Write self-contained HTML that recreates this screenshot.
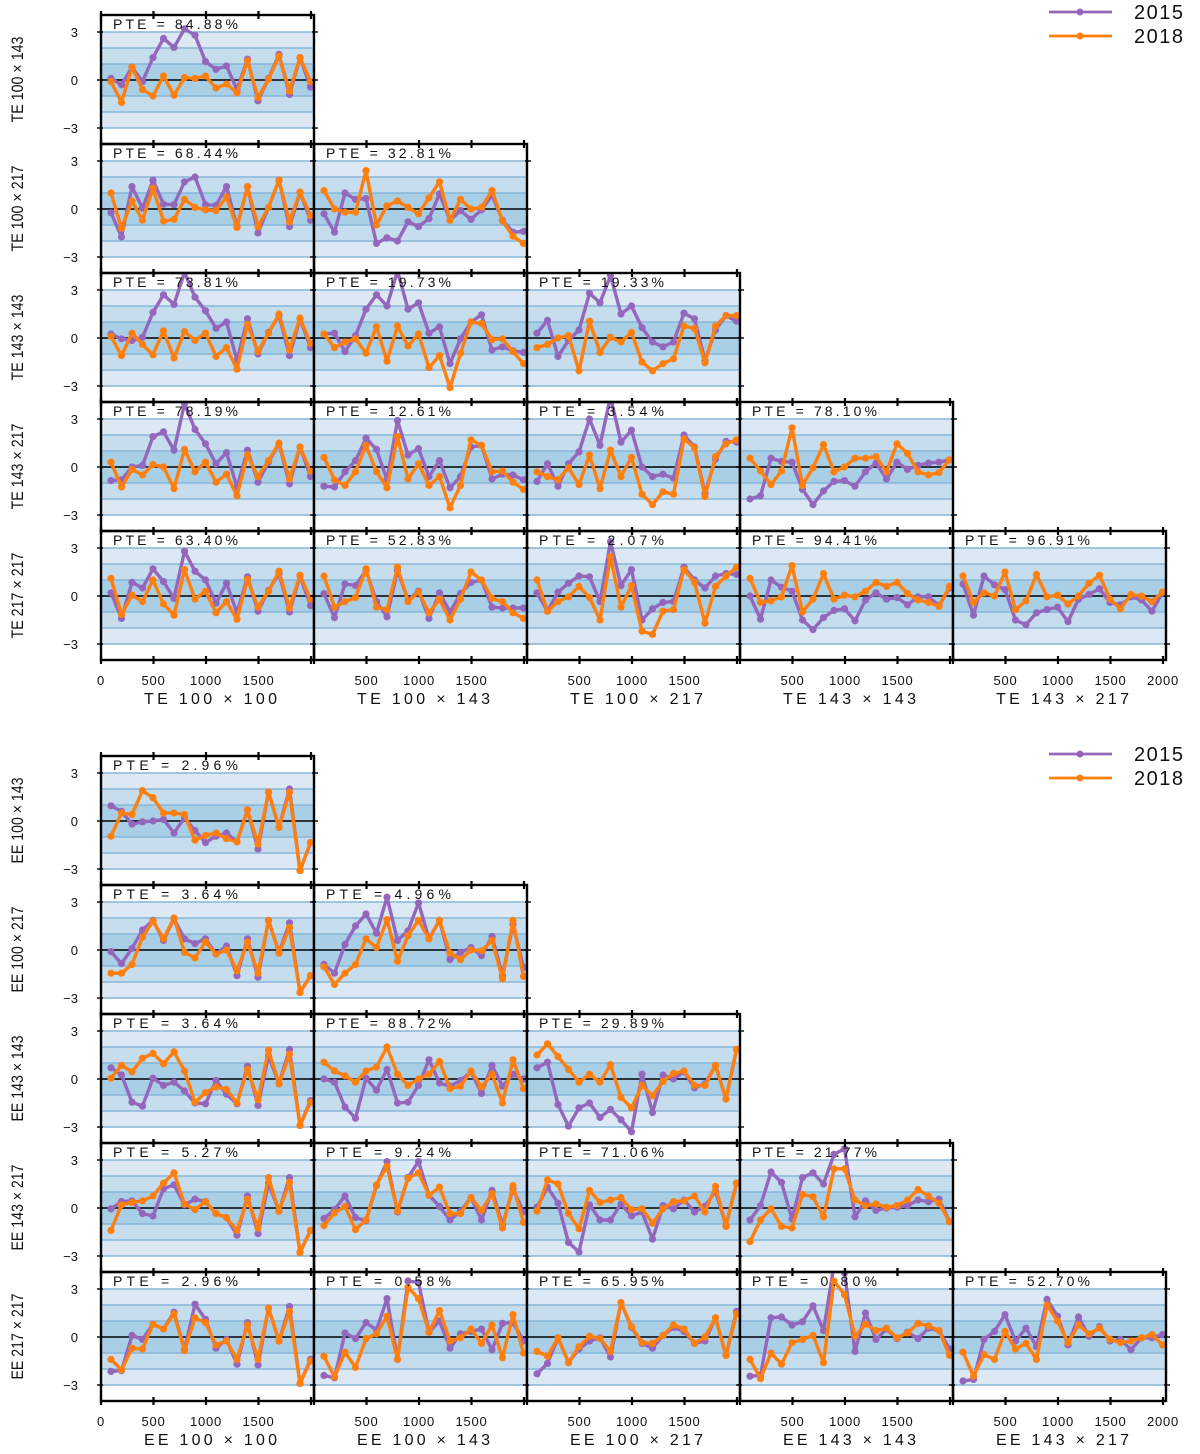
<!DOCTYPE html>
<html><head><meta charset="utf-8"><style>
html,body{margin:0;padding:0;background:#fff}
svg{display:block}
text{font-family:"Liberation Sans","DejaVu Sans",sans-serif;fill:#111}
</style></head><body>
<svg id="chart" width="1200" height="1454" viewBox="0 0 1200 1454" xmlns="http://www.w3.org/2000/svg"></svg>
<script>
const ellStart = 95, ellStep = 100, nPoints = 20;
const colLabels = ["100 × 100","100 × 143","100 × 217","143 × 143","143 × 217"];
const rowLabels = ["100 × 143","100 × 217","143 × 143","143 × 217","217 × 217"];
const xTicks = [0,500,1000,1500,2000];
const yTicks = [3,0,-3];
const yTickLabels = ["3","0","−3"];
const seriesNames = ["2015","2018"];

const tePte = [["84.88"],["68.44","32.81"],["73.81","19.73","19.33"],["78.19","12.61","3.54","78.10"],["63.40","52.83","2.07","94.41","96.91"]];
const eePte = [["2.96"],["3.64","4.96"],["3.64","88.72","29.89"],["5.27","9.24","71.06","21.77"],["2.96","0.58","65.95","0.80","52.70"]];

const te2015 = [
[[0.1,-0.3,0.8,-0.1,1.4,2.6,2.04,3.2,2.8,1.15,0.67,0.875,-0.6,1.3,-1.3,0.1,1.6,-0.9,1.4,-0.45]],
[[-0.23,-1.75,1.4,0.05,1.8,0.3,0.27,1.7,2.0,0.27,0.23,1.4,-1.1,1.4,-1.5,0.1,1.8,-1.1,1.05,-0.7],
 [-0.3,-1.45,1.0,0.6,0.65,-2.15,-1.8,-2.0,-0.8,-1.1,-0.6,0.95,-0.7,-0.1,-0.65,-0.05,0.85,-0.7,-1.45,-1.4]],
[[0.25,-0.05,-0.15,0.05,1.6,2.7,2.1,4.1,2.55,1.7,0.6,1.0,-1.4,1.2,-1.0,0.35,1.4,-1.1,1.2,-0.6],
 [0.25,0.3,-0.85,0.15,1.8,2.7,2.0,4.2,1.8,2.2,0.3,0.7,-1.6,-0.05,1.0,1.45,-0.75,-0.55,-0.8,-0.9],
 [0.3,1.1,-1.15,-0.15,0.5,2.8,2.2,3.9,1.5,2.0,0.65,-0.25,-0.55,-0.25,1.55,1.2,-1.4,0.5,1.4,1.05]],
[[-0.85,-0.8,0,0.1,1.9,2.2,1.05,3.95,2.35,1.45,0.2,0.9,-1.25,1.05,-0.95,0.3,1.45,-1.05,1.25,-0.6],
 [-1.2,-1.25,-0.3,0.4,1.8,1.1,-0.8,2.9,0.75,1.15,-0.6,0.4,-1.3,-0.6,1.25,1.35,-0.75,-0.45,-0.5,-0.8],
 [-0.9,0.2,-1.2,0.2,0.95,3.0,1.35,4.4,1.55,2.3,0,-0.6,-0.45,-0.7,2.0,1.25,-1.65,0.5,1.6,1.55],
 [-2.0,-1.8,0.55,0.35,0.3,-1.4,-2.35,-1.5,-0.9,-0.85,-1.2,-0.3,0.25,-0.75,0.3,-0.15,0.1,0.25,0.3,0.45]],
[[0.2,-1.4,0.85,0.5,1.7,0.9,-0.15,2.8,1.55,1.0,-0.45,0.8,-1.05,1.2,-0.95,0.35,1.4,-1.0,1.25,-0.6],
 [0.15,-1.35,0.75,0.65,1.6,-0.35,-1.3,1.6,-0.25,0.3,-1.4,0.2,-1.0,0.15,0.85,1.0,-0.7,-0.75,-0.75,-0.75],
 [0.2,-0.95,0.25,0.8,1.25,1.2,-0.35,3.4,0.65,1.65,-1.5,-0.8,-0.4,-0.35,1.8,1.0,0.5,1.25,1.4,1.35],
 [0,-1.45,1.0,0.55,0.3,-1.5,-2.1,-1.35,-0.9,-0.8,-1.55,-0.25,0.2,-0.2,-0.1,-0.55,-0.05,-0.05,-0.6,0.5],
 [0.75,-1.2,1.25,0.7,0.4,-1.5,-1.8,-1.05,-0.85,-0.7,-1.6,-0.2,0.1,0.45,-0.4,-0.55,-0.05,-0.25,-0.95,0.2]]
];
const te2018 = [
[[-0.1,-1.4,0.8,-0.6,-1.0,0.25,-0.95,0.15,0.1,0.25,-0.5,-0.25,-0.8,1.2,-1.1,0.05,1.5,-0.7,1.4,-0.1]],
[[1.0,-1.2,0.5,-0.7,1.3,-0.75,-0.65,0.6,0.1,-0.05,-0.1,0.75,-1.15,1.4,-1.1,0.1,1.8,-0.8,1.05,-0.4],
 [1.15,0,-0.2,-0.2,2.4,-1.0,0.2,0.5,0.1,-0.3,0.7,1.7,-0.7,0.6,0,0.1,1.15,-0.75,-1.7,-2.15]],
[[0.1,-1.1,0.3,-0.4,-1.05,0.45,-1.25,0.4,-0.15,0.3,-1.15,-0.6,-1.95,0.85,-0.85,0.3,1.5,-0.75,1.25,-0.35],
 [0.25,-0.6,-0.25,-0.05,-0.95,0.7,-1.45,0.75,-0.5,0.25,-1.85,-1.1,-3.1,-0.95,1.0,0.9,-0.1,-0.05,-0.85,-1.6],
 [-0.6,-0.4,0,0.15,-2.05,1.05,-0.9,0.05,-0.25,0.35,-1.5,-2.05,-1.6,-1.3,0.75,0.6,-1.55,0.75,1.4,1.4]],
[[0.3,-1.25,-0.15,-0.5,0.15,0,-1.35,1.1,-0.3,0.3,-0.95,-0.45,-1.8,0.75,-0.6,0.4,1.5,-0.75,1.25,-0.25],
 [0.6,-0.8,-1.15,-0.3,1.35,-0.3,-1.3,1.9,-0.75,0.2,-1.15,-0.6,-2.55,-1.15,1.7,1.35,-0.3,-0.25,-0.95,-1.4],
 [-0.3,-0.6,-0.8,-0.05,-1.1,0.75,-1.35,1.05,-0.6,0.6,-1.7,-2.35,-1.55,-1.7,1.75,1.2,-1.85,0.65,1.45,1.7],
 [0.55,-0.25,-1.1,-0.25,2.45,-1.15,-0.05,1.4,-0.3,0,0.55,0.55,0.65,-0.3,1.45,0.85,-0.3,-0.5,-0.35,0.45]],
[[1.1,-1.15,0.05,-0.35,1.0,-0.5,-1.2,1.65,-0.2,0.3,-1.05,-0.35,-1.45,1.05,-0.7,0.3,1.55,-0.75,1.3,-0.2],
 [1.25,-0.7,-0.35,-0.1,1.7,-0.7,-0.85,1.8,-0.35,0.25,-1.05,-0.2,-1.5,-0.2,1.5,1.0,-0.15,-0.35,-1.05,-1.4],
 [1.0,-0.95,-0.35,-0.05,0.6,-0.1,-1.5,2.45,-0.7,0.65,-2.2,-2.4,-0.95,-0.85,1.65,0.85,-1.7,0.6,1.25,1.8],
 [1.1,-0.4,-0.3,-0.05,1.9,-1.0,-0.2,1.4,-0.2,0.05,-0.05,0.3,0.85,0.6,0.85,0.15,-0.25,-0.4,-0.65,0.6],
 [1.25,-0.4,0.2,0,1.5,-0.85,-0.3,1.35,-0.05,0.05,-0.5,0,0.8,1.3,-0.2,-0.8,0.1,0,-0.35,0.25]]
];
const ee2015 = [
[[0.95,0.6,-0.2,-0.05,0,0.1,-0.75,0.2,-0.6,-1.35,-0.95,-0.75,-1.3,0.7,-1.75,1.8,-0.4,2.0,-3.1,-1.35]],
[[-0.1,-0.85,0.1,1.25,1.85,0.6,1.95,0.7,0.4,0.7,-0.25,0.25,-1.6,0.7,-1.7,1.85,-0.15,1.7,-2.65,-1.6],
 [-0.9,-1.45,0.35,1.5,2.25,1.05,3.3,0.6,1.2,2.95,0.7,1.85,-0.6,-0.15,0.15,-0.35,0.85,-1.6,1.6,-1.1]],
[[0.7,0.25,-1.45,-1.7,0.05,-0.4,-0.2,-0.75,-1.5,-1.55,-0.1,-0.95,-1.55,0.8,-1.65,1.45,-0.3,1.85,-2.9,-1.35],
 [0,-0.2,-1.75,-2.45,0.05,-0.7,0.6,-1.5,-1.45,-0.4,1.2,-0.25,-0.45,-0.1,0.45,-0.9,0.85,-0.45,0.3,0],
 [0.7,1.05,-1.6,-2.95,-1.8,-1.5,-2.4,-1.9,-2.55,-3.3,0.3,-2.1,0.25,0,0.45,-0.55,-0.3,0.85,-1.25,1.85]],
[[-0.05,0.4,0.45,-0.35,-0.5,1.2,1.45,0.2,0.55,0.4,-0.35,-0.6,-1.7,0.75,-1.6,1.55,-0.2,1.9,-2.75,-1.4],
 [-0.65,-0.1,0.75,-0.6,-0.8,1.4,2.9,-0.25,1.9,2.9,0.8,0.1,-0.75,-0.2,0.65,-0.75,1.1,-1.05,1.2,-0.25],
 [0.05,1.3,0.3,-2.15,-2.75,0.2,-0.75,-0.75,0.25,-0.5,-0.25,-1.95,0.15,-0.05,0.5,-0.25,0.1,1.05,-1.1,1.55],
 [-0.75,0.15,2.25,1.6,-0.7,1.9,2.2,1.5,3.35,3.7,-0.55,0.45,-0.15,0,0.05,0.15,0.5,0.4,0.55,-0.85]],
[[-2.15,-2.1,0.1,-0.15,0.8,0.5,1.55,-0.8,2.05,1.1,-0.7,-0.15,-1.7,0.9,-1.75,1.8,-0.25,1.9,-2.9,-1.4],
 [-2.4,-2.55,0.25,-0.1,0.9,0.45,2.4,-1.4,3.5,3.4,0.3,1.0,-0.7,0.2,0.35,0.5,-0.8,0.85,0.9,-0.25],
 [-2.3,-1.65,-0.05,-1.6,-0.75,-0.25,-0.05,-1.25,2.15,0.6,-0.4,-0.7,0.1,0.6,0.35,-0.4,-0.25,1.2,-1.15,1.6],
 [-2.45,-2.4,1.2,1.25,0.75,0.95,1.95,0.4,4.5,4.0,-0.9,1.5,-0.15,0.5,-0.1,0.3,-0.1,0.55,0.4,-0.75],
 [-2.75,-2.65,-0.15,0.35,1.4,-0.25,0.55,-0.6,2.35,1.3,-0.5,1.25,0.05,0.65,-0.25,-0.15,-0.8,-0.05,-0.05,0.15]]
];
const ee2018 = [
[[-0.95,0.5,0.4,1.9,1.45,0.5,0.5,0.4,-1.2,-0.9,-0.75,-1.1,-1.3,0.7,-1.45,1.8,-0.4,1.8,-3.1,-1.35]],
[[-1.45,-1.45,-0.9,0.8,1.8,0.7,2.0,-0.15,-0.5,0.5,-0.25,0,-1.3,0.5,-1.45,1.85,-0.2,1.4,-2.65,-1.6],
 [-1.05,-2.15,-1.45,-0.9,0.7,0.15,1.9,-0.7,0.9,1.85,0.7,1.85,-0.2,-0.6,0,-0.05,0.6,-1.8,1.85,-1.65]],
[[0.05,0.85,0.45,1.3,1.6,0.95,1.7,0.5,-1.45,-0.85,-0.5,-0.65,-1.5,0.6,-1.3,1.8,-0.3,1.55,-2.9,-1.45],
 [1.05,0.5,0.2,-0.2,0.5,0.75,2.0,0.3,-0.4,0,0.3,1.1,-0.6,-0.45,0.5,-0.5,0.3,-1.5,1.2,-0.6],
 [1.5,2.2,1.4,0.6,-0.2,0.3,-0.2,0.9,-1.15,-1.8,-0.4,-1.05,-0.15,0.35,0.5,-0.4,-0.4,0.85,-1.25,1.85]],
[[-1.4,0.2,0.35,0.45,0.75,1.55,2.2,0.25,-0.1,0.4,-0.35,-0.6,-1.4,0.55,-1.25,1.9,-0.2,1.6,-2.8,-1.4],
 [-1.1,-0.3,0.1,-1.35,-0.75,1.45,2.6,-0.2,1.85,2.2,0.8,1.3,-0.35,-0.35,0.65,-0.15,0.9,-1.25,1.4,-0.9],
 [-0.2,1.75,1.5,-0.35,-1.3,1.1,0.35,0.5,0.65,-0.1,-0.05,-0.95,-0.05,0.4,0.45,0.75,-0.25,1.35,-1.15,1.55],
 [-2.1,-0.75,-0.05,-1.15,-1.25,0.85,0.7,-0.55,2.45,2.45,0.5,0.15,0.25,0.05,0.15,0.5,1.15,0.75,0.3,-0.85]],
[[-1.4,-2.05,-0.7,-0.75,0.8,0.5,1.45,-0.85,1.2,0.9,-0.5,-0.25,-1.4,0.75,-1.4,1.8,-0.25,1.6,-2.9,-1.5],
 [-1.2,-2.5,-0.95,-1.9,-0.1,0.2,1.3,-1.4,3.1,2.4,0.3,1.65,-0.25,-0.05,0.5,-0.4,0.75,-1.3,1.4,-1.0],
 [-0.9,-1.2,-0.05,-1.6,-0.6,0.05,-0.1,-0.9,2.15,0.65,-0.35,-0.4,0.1,0.75,0.5,-0.4,0,1.2,-1.15,1.45],
 [-1.4,-2.6,-1.0,-1.7,-0.35,-0.15,0.1,-1.6,3.5,2.65,0.05,0.8,0.4,0.55,-0.05,0.25,0.85,0.7,0.4,-1.15],
 [-0.95,-2.45,-1.1,-1.4,0.35,-0.75,-0.4,-1.4,2.0,1.0,-0.35,0.75,0.2,0.55,-0.15,-0.35,-0.25,-0.05,0.15,-0.5]]
];

const NS = "http://www.w3.org/2000/svg";
const svg = document.getElementById("chart");
const colLeft = [101,314,527,740,953];
const PW = 213, PH = 129, XSPAN = 210, ZOFF = 65, UNIT = 16;
const COL15 = "#9467bd", COL18 = "#ff7f0e";
function mk(tag, attrs, parent){const e=document.createElementNS(NS,tag);for(const k in attrs)e.setAttribute(k,attrs[k]);(parent||svg).appendChild(e);return e;}
function xScale(left, ell){return left + ell/2000*XSPAN;}
function yScale(top, v){return top + ZOFF - v*UNIT;}
let clipId = 0;

function drawSeries(g, left, top, vals, color, name){
  const pts = vals.map((v,i)=>[xScale(left, ellStart+ellStep*i), yScale(top, v)]);
  const pl = mk("polyline",{points:pts.map(p=>p[0].toFixed(1)+","+p[1].toFixed(1)).join(" "),fill:"none",stroke:color,"stroke-width":3.4,"stroke-linejoin":"round"},g);
  
  
  pts.forEach(p=>{
    const c = mk("circle",{cx:p[0].toFixed(1),cy:p[1].toFixed(1),r:3.6,fill:color},g);
    
    
  });
}

function drawPanel(prefix, r, c, top, pte, v15, v18){
  const left = colLeft[c];
  const g = mk("g",{});
  
  
  const id = "clip"+(clipId++);
  const cp = mk("clipPath",{id:id},g);
  mk("rect",{x:left,y:top,width:PW,height:PH},cp);
  const bands=[[3,"#dce8f4"],[2,"#c5dded"],[1,"#a9cfe6"]];
  bands.forEach(b=>{
    const y1=yScale(top,b[0]), y2=yScale(top,-b[0]);
    mk("rect",{x:left,y:y1,width:PW,height:y2-y1,fill:b[1]},g);
  });
  [3,2,1,-1,-2,-3].forEach(v=>{
    mk("line",{x1:left,x2:left+PW,y1:yScale(top,v),y2:yScale(top,v),stroke:"#86b6d8","stroke-width":1.4},g);
  });
  mk("line",{x1:left,x2:left+PW,y1:yScale(top,0),y2:yScale(top,0),stroke:"#000","stroke-width":1.6},g);
  const dg = mk("g",{"clip-path":"url(#"+id+")"},g);
  drawSeries(dg,left,top,v15,COL15,"series-2015");
  drawSeries(dg,left,top,v18,COL18,"series-2018");
  const t = mk("text",{x:left+12,y:top+14,"font-size":14,textLength:125,lengthAdjust:"spacing"},g);
  t.textContent = "PTE = "+pte+"%";
  
  
  mk("rect",{x:left,y:top,width:PW,height:PH,fill:"none",stroke:"#000","stroke-width":2.4},g);
  xTicks.forEach(tk=>{
    const x=xScale(left,tk);
    mk("line",{x1:x,x2:x,y1:top-4,y2:top+4,stroke:"#000","stroke-width":2.2},g);
    mk("line",{x1:x,x2:x,y1:top+PH-4,y2:top+PH+4,stroke:"#000","stroke-width":2.2},g);
  });
  yTicks.forEach(tk=>{
    const y=yScale(top,tk);
    mk("line",{x1:left-4,x2:left+2,y1:y,y2:y,stroke:"#000","stroke-width":1.4},g);
    mk("line",{x1:left+PW-2,x2:left+PW+4,y1:y,y2:y,stroke:"#000","stroke-width":1.4},g);
  });
}

function drawGrid(prefix, tops, pte, d15, d18, legendY){
  for(let r=0;r<5;r++){
    for(let c=0;c<=r;c++) drawPanel(prefix,r,c,tops[r],pte[r][c],d15[r][c],d18[r][c]);
    yTicks.forEach((tk,i)=>{
      const t=mk("text",{x:78,y:yScale(tops[r],tk)+5,"font-size":13,"text-anchor":"end"});
      t.textContent=yTickLabels[i];
      
      
    });
    const cy = tops[r]+PH/2;
    const yl=mk("text",{x:0,y:0,"font-size":17,"text-anchor":"middle",textLength:86,lengthAdjust:"spacingAndGlyphs",transform:"translate(23,"+cy+") rotate(-90)"});
    yl.textContent = prefix+" "+rowLabels[r];
    
    
  }
  const bottom = tops[4]+PH;
  for(let c=0;c<5;c++){
    const left=colLeft[c];
    xTicks.forEach(tk=>{
      if(tk===0 && c>0) return;
      if(tk===2000 && c<4) return;
      const t=mk("text",{x:xScale(left,tk),y:bottom+25,"font-size":13,"text-anchor":"middle","letter-spacing":"0.8"});
      t.textContent=String(tk);
      
      
    });
    const xt=mk("text",{x:left+43,y:bottom+44,"font-size":16,textLength:133,lengthAdjust:"spacing"});
    xt.textContent=prefix+" "+colLabels[c];
    
    
  }
  const lg = mk("g",{});
  
  
  seriesNames.forEach((nm,i)=>{
    const y=legendY+i*24, col=i?COL18:COL15;
    const e=mk("g",{},lg);
    
    
    mk("line",{x1:1049,x2:1112,y1:y,y2:y,stroke:col,"stroke-width":2.8},e);
    mk("circle",{cx:1080,cy:y,r:3.5,fill:col},e);
    const t=mk("text",{x:1134,y:y+7,"font-size":20,"letter-spacing":"1.5"},e);
    t.textContent=nm;
  });
}

drawGrid("TE",[15,144,273,402,531],tePte,te2015,te2018,12);
drawGrid("EE",[756,885,1014,1143,1272],eePte,ee2015,ee2018,754);
</script>
</body></html>
